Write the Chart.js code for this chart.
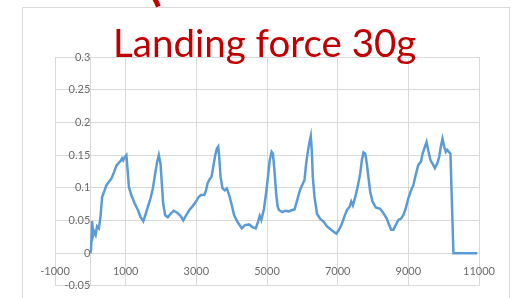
<!DOCTYPE html>
<html>
<head>
<meta charset="utf-8">
<script src="https://cdn.jsdelivr.net/npm/chart.js@4.4.1/dist/chart.umd.min.js"></script>
<style>
html, body { margin: 0; padding: 0; background: #fff; overflow: hidden; }
#wrap { position: relative; width: 516px; height: 298px; overflow: hidden; }
</style>
</head>
<body>
<div id="wrap"><canvas id="c" width="516" height="304"></canvas></div>
<script>
var titleText = "Landing force 30g";

var timeMs = [0, 20, 50, 85, 110, 150, 190, 240, 287, 333, 390, 456, 521, 597, 671, 738, 803, 859, 897, 930,
    972, 1020, 1048, 1093, 1160, 1254, 1347, 1422, 1499, 1555, 1628, 1704, 1769, 1836, 1893, 1938, 1986, 2023,
    2062, 2118, 2192, 2268, 2361, 2456, 2569, 2630, 2710, 2803, 2896, 2991, 3066, 3132, 3225, 3273, 3319, 3386,
    3431, 3479, 3535, 3583, 3620, 3648, 3685, 3741, 3808, 3864, 3930, 4006, 4070, 4163, 4287, 4380, 4493, 4586,
    4681, 4746, 4794, 4839, 4915, 4980, 5028, 5076, 5130, 5169, 5217, 5262, 5300, 5338, 5431, 5527, 5620, 5714,
    5780, 5854, 5930, 5994, 6062, 6108, 6155, 6203, 6239, 6268, 6296, 6344, 6417, 6513, 6606, 6699, 6813, 6935,
    6963, 7028, 7104, 7189, 7262, 7338, 7385, 7431, 7499, 7563, 7639, 7684, 7732, 7780, 7825, 7873, 7921, 7986,
    8079, 8203, 8296, 8389, 8457, 8513, 8577, 8642, 8718, 8794, 8859, 8924, 9000, 9076, 9141, 9206, 9282, 9358,
    9403, 9470, 9515, 9563, 9628, 9704, 9752, 9817, 9873, 9921, 9966, 10014, 10062, 10099, 10146, 10192, 10220,
    10248, 10276, 10600, 10950];

var force = [0, 0.005, 0.049, 0.028, 0.033, 0.028, 0.041, 0.038, 0.055, 0.086, 0.094, 0.104, 0.109, 0.114, 0.124,
    0.134, 0.138, 0.141, 0.145, 0.142, 0.147, 0.150, 0.132, 0.101, 0.089, 0.076, 0.066, 0.055, 0.049, 0.058,
    0.071, 0.084, 0.099, 0.122, 0.140, 0.150, 0.137, 0.107, 0.076, 0.058, 0.055, 0.060, 0.065, 0.062, 0.056,
    0.050, 0.058, 0.066, 0.072, 0.079, 0.086, 0.089, 0.089, 0.096, 0.107, 0.114, 0.117, 0.132, 0.150, 0.160,
    0.163, 0.147, 0.117, 0.099, 0.096, 0.099, 0.089, 0.073, 0.058, 0.048, 0.038, 0.043, 0.044, 0.040, 0.038,
    0.048, 0.057, 0.051, 0.068, 0.094, 0.117, 0.142, 0.155, 0.152, 0.122, 0.089, 0.072, 0.066, 0.063, 0.065,
    0.064, 0.066, 0.067, 0.081, 0.096, 0.104, 0.112, 0.137, 0.155, 0.170, 0.179, 0.157, 0.117, 0.086, 0.060,
    0.052, 0.048, 0.041, 0.036, 0.031, 0.030, 0.035, 0.043, 0.056, 0.066, 0.071, 0.079, 0.073, 0.086, 0.101,
    0.122, 0.142, 0.154, 0.152, 0.137, 0.115, 0.094, 0.079, 0.070, 0.068, 0.061, 0.053, 0.043, 0.036, 0.036,
    0.043, 0.051, 0.053, 0.058, 0.068, 0.084, 0.096, 0.104, 0.119, 0.135, 0.140, 0.152, 0.163, 0.170, 0.157,
    0.142, 0.135, 0.130, 0.137, 0.147, 0.163, 0.175, 0.163, 0.155, 0.158, 0.155, 0.152, 0.101, 0.051, 0, 0, 0];

var xTicks = [-1000, 1000, 3000, 5000, 7000, 9000, 11000];
var yTicks = [-0.05, 0, 0.05, 0.1, 0.15, 0.2, 0.25, 0.3];

var pts = timeMs.map(function (t, i) { return { x: t, y: force[i] }; });

var gridCol = "#d9d9d9";
var lblCol = "#6b6b6b";

var decor = {
    id: "decor",
    beforeDraw: function (ch) {
        var ctx = ch.ctx;
        ctx.save();
        ctx.strokeStyle = gridCol;
        ctx.lineWidth = 1;
        ctx.strokeRect(22.5, 7.5, 487, 310);
        ctx.restore();
    },
    afterDraw: function (ch) {
        var ctx = ch.ctx;
        ctx.save();
        // bit of the red arrow coming in from above
        ctx.strokeStyle = "#c00000";
        ctx.lineWidth = 5;
        ctx.beginPath();
        ctx.moveTo(154.5, -2);
        ctx.lineTo(158.5, 6.5);
        ctx.stroke();
        // title sits over the top of the plot
        ctx.font = "36px Lato";
        var w = ctx.measureText(titleText).width;
        var sz = 36 * 303 / w;
        ctx.font = sz.toFixed(1) + "px Lato";
        ctx.fillStyle = "#c00000";
        ctx.textBaseline = "alphabetic";
        ctx.textAlign = "left";
        ctx.fillText(titleText, 113, 57);
        ctx.restore();
    }
};

new Chart(document.getElementById("c"), {
    type: "line",
    data: {
        datasets: [{
            data: pts,
            borderColor: "#5b9bd5",
            borderWidth: 2.5,
            pointRadius: 0,
            tension: 0,
            fill: false
        }]
    },
    options: {
        responsive: false,
        animation: false,
        layout: { padding: { left: 55, right: 37, top: 57, bottom: 0 } },
        plugins: { legend: { display: false }, tooltip: { enabled: false } },
        scales: {
            x: {
                type: "linear",
                position: { y: 0 },
                min: -1000,
                max: 11000,
                afterBuildTicks: function (s) { s.ticks = xTicks.map(function (v) { return { value: v }; }); },
                grid: { color: gridCol, drawTicks: false },
                border: { color: gridCol },
                ticks: {
                    autoSkip: false,
                    maxRotation: 0,
                    padding: 12,
                    color: lblCol,
                    font: { family: "Lato", size: 11 },
                    callback: function (v) { return String(v); }
                }
            },
            y: {
                type: "linear",
                position: { x: 0 },
                min: -0.05,
                max: 0.3,
                afterBuildTicks: function (s) { s.ticks = yTicks.map(function (v) { return { value: v }; }); },
                grid: { color: gridCol, drawTicks: false },
                border: { color: gridCol },
                ticks: {
                    padding: 11.5,
                    color: lblCol,
                    font: { family: "Lato", size: 11 },
                    callback: function (v) { return String(Number(v.toFixed(2))); }
                }
            }
        }
    },
    plugins: [decor]
});
</script>
</body>
</html>
